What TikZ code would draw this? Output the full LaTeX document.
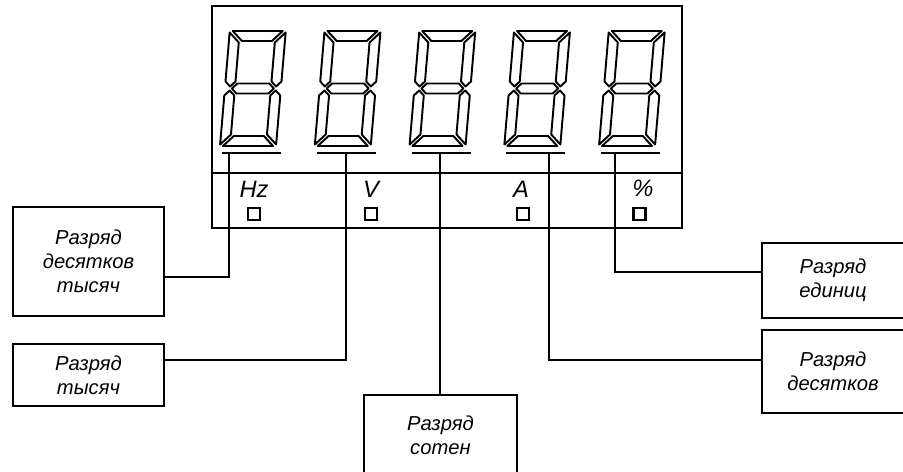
\documentclass[tikz,border=0pt]{standalone}
\usepackage{fontspec}
\setmainfont{Liberation Sans}
\begin{document}
\begin{tikzpicture}[x=0.02cm,y=-0.02cm,
  seg/.style={line width=1.1pt,line join=round},
  wire/.style={line width=1.5pt},
  bx/.style={draw,line width=1.4pt,align=center,inner sep=0pt,font=\fontsize{11.5}{13.6}\selectfont\itshape},
  unit/.style={inner sep=0pt,font=\fontsize{13.5}{16}\selectfont\itshape},
  ind/.style={draw,line width=1.2pt,minimum size=0.24cm,inner sep=0pt}]
\useasboundingbox (0,0) rectangle (903,472);
% panel
\draw[wire] (212,6) rectangle (682,228);
\draw[wire] (212,173) -- (682,173);
% seven segment digits
\foreach \i in {0,...,4}{
\begin{scope}[shift={(220+94.75*\i,146)},x=0.02cm,y=0.02cm,xslant=0.085,seg]
  \draw (3,115) -- (53,115) -- (43,105) -- (13,105) -- cycle;
  \draw (3,0) -- (53,0) -- (43,10) -- (13,10) -- cycle;
  \draw (0,113.5) -- (10,103.5) -- (10,64.5) -- (5,59.5) -- (0,64.5) -- cycle;
  \draw (0,1.5) -- (10,11.5) -- (10,50.5) -- (5,55.5) -- (0,50.5) -- cycle;
  \draw (56,113.5) -- (46,103.5) -- (46,64.5) -- (51,59.5) -- (56,64.5) -- cycle;
  \draw (56,1.5) -- (46,11.5) -- (46,50.5) -- (51,55.5) -- (56,50.5) -- cycle;
  \draw (7,57.5) -- (12,62.5) -- (44,62.5) -- (49,57.5) -- (44,52.5) -- (12,52.5) -- cycle;
\end{scope}
\draw[line width=1.4pt] (222+94.75*\i,153) -- (281+94.75*\i,153);
}
% units
\node[unit] (hz) at (254,189) {Hz};
\node[unit] (volt) at (371,189) {V};
\node[unit] (amp) at (521,189) {A};
\node[unit] (pct) at (643,188) {\%};
\node[ind] (sqhz) at (254,214) {};
\node[ind] (sqvolt) at (371,214) {};
\node[ind] (sqamp) at (523,214) {};
\node[ind] (sqpct) at (639.5,214) {};
% captions
\node[bx,minimum width=3.02cm,minimum height=2.18cm] (tenk) at (88.5,261.5) {Разряд\\десятков\\тысяч};
\node[bx,minimum width=3.02cm,minimum height=1.24cm] (thou) at (88.5,375) {Разряд\\тысяч};
\node[bx,minimum width=3.06cm,minimum height=1.6cm] (hund) at (440.5,435) {Разряд\\сотен};
\node[bx,minimum width=2.84cm,minimum height=1.5cm] (ones) at (833,280.5) {Разряд\\единиц};
\node[bx,minimum width=2.84cm,minimum height=1.66cm] (tens) at (833,371.5) {Разряд\\десятков};
% leaders
\coordinate (t1) at (229,153);
\coordinate (t2) at (346,153);
\coordinate (t3) at (440,153);
\coordinate (t4) at (549,153);
\coordinate (t5) at (615,153);
\draw[wire] (t1) |- ([yshift=-0.31cm]tenk.east);
\draw[wire] (t2) |- ([yshift=0.3cm]thou.east);
\draw[wire] (t3) -- (t3 |- hund.north);
\draw[wire] (t4) |- ([yshift=0.23cm]tens.west);
\draw[wire] (t5) |- ([yshift=0.17cm]ones.west);
\end{tikzpicture}
\end{document}
